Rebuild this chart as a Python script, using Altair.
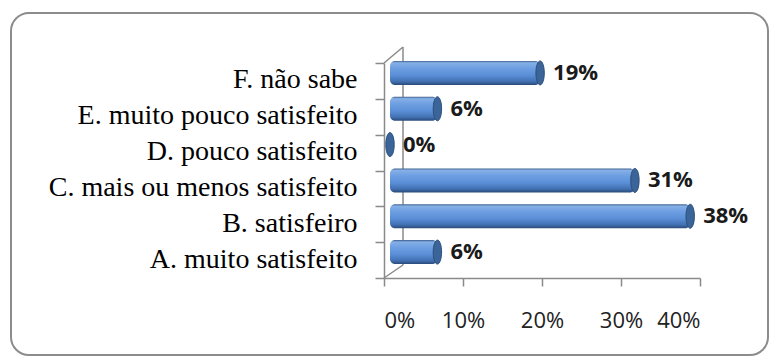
import altair as alt
import pandas as pd

categories = [
    "F. não sabe",
    "E. muito pouco satisfeito",
    "D. pouco satisfeito",
    "C. mais ou menos satisfeito",
    "B. satisfeiro",
    "A. muito satisfeito",
]
values = [19, 6, 0, 31, 38, 6]
x_ticks = [0, 10, 20, 30, 40]

df = pd.DataFrame({"cat": categories, "value": values})
one = pd.DataFrame({"a": [0]})

AXIS_GRAY = "#8a8a8a"

x_axis = alt.Axis(
    values=x_ticks,
    labelExpr="datum.value + '%'",
    title=None,
    grid=False,
    labelFont="Open Sans",
    labelFontSize=22,
    labelColor="#222222",
    labelPadding=24,
    tickSize=8,
    tickColor=AXIS_GRAY,
    domainColor=AXIS_GRAY,
    tickWidth=1.5,
    domainWidth=1.5,
)
x_scale = alt.Scale(domain=[0, 40], nice=False)

y_enc = alt.Y(
    "cat:N",
    sort=categories,
    scale=alt.Scale(paddingInner=0, paddingOuter=0),
    axis=alt.Axis(
        title=None,
        labelFont="Liberation Serif",
        labelFontSize=28,
        labelColor="black",
        labelPadding=18,
        labelOffset=-1,
        labelLimit=500,
        tickBand="extent",
        tickSize=9,
        tickColor=AXIS_GRAY,
        domainColor=AXIS_GRAY,
        tickWidth=1.5,
        domainWidth=1.5,
    ),
)

border = alt.Chart(one).mark_rect(
    fill=None, stroke="#8c8c8c", strokeWidth=2, cornerRadius=18
).encode(
    x=alt.value(-373), x2=alt.value(384), y=alt.value(-50), y2=alt.value(292)
)

wall_bottom = alt.Chart(one).mark_rule(color=AXIS_GRAY, strokeWidth=1.5).encode(
    x=alt.value(0), x2=alt.value(19), y=alt.value(215), y2=alt.value(202)
)
wall_top = alt.Chart(one).mark_rule(color=AXIS_GRAY, strokeWidth=1.5).encode(
    x=alt.value(0), x2=alt.value(19), y=alt.value(0), y2=alt.value(-16)
)
wall_back = alt.Chart(one).mark_rule(color=AXIS_GRAY, strokeWidth=1.5).encode(
    x=alt.value(19), x2=alt.value(19), y=alt.value(-16), y2=alt.value(202)
)

grad = alt.Gradient(
    gradient="linear",
    x1=0, x2=0, y1=0, y2=1,
    stops=[
        alt.GradientStop(offset=0, color="#3d5f8c"),
        alt.GradientStop(offset=0.08, color="#86b0e6"),
        alt.GradientStop(offset=0.3, color="#6e9fe2"),
        alt.GradientStop(offset=0.6, color="#5a8ed6"),
        alt.GradientStop(offset=0.85, color="#4271b3"),
        alt.GradientStop(offset=1, color="#2a4a78"),
    ],
)

base = alt.Chart(df).transform_calculate(zero="0")

bars = base.mark_bar(
    color=grad,
    height={"band": 0.67},
    cornerRadius=5,
    xOffset=6,
    x2Offset=6,
    yOffset=-8,
    y2Offset=-8,
).encode(
    x=alt.X("zero:Q", scale=x_scale, axis=x_axis),
    x2="value:Q",
    y=y_enc,
)

caps = base.mark_point(
    shape="M0,-1A0.35,1,0,1,1,0,1A0.35,1,0,1,1,0,-1Z",
    size=576,
    filled=True,
    fill="#3b6498",
    stroke="#2c4f7e",
    strokeWidth=1,
    opacity=1,
    xOffset=6,
    yOffset=-8,
).encode(x="value:Q", y=alt.Y("cat:N", sort=categories))

labels = base.transform_calculate(label="datum.value + '%'").mark_text(
    align="left",
    baseline="middle",
    dx=19,
    dy=-8,
    font="Open Sans",
    fontWeight="bold",
    fontSize=22,
    color="#1a1a1a",
).encode(x="value:Q", y=alt.Y("cat:N", sort=categories), text="label:N")

chart = (
    alt.layer(border, wall_bottom, wall_top, wall_back, bars, caps, labels)
    .properties(
        width=316,
        height=215,
        padding={"left": 384, "top": 63, "right": 71, "bottom": 85},
        autosize=alt.AutoSizeParams(type="none"),
        background="white",
    )
    .configure_view(strokeWidth=0)
)

chart.save("out.html", embed_options={"renderer": "svg", "actions": False})
